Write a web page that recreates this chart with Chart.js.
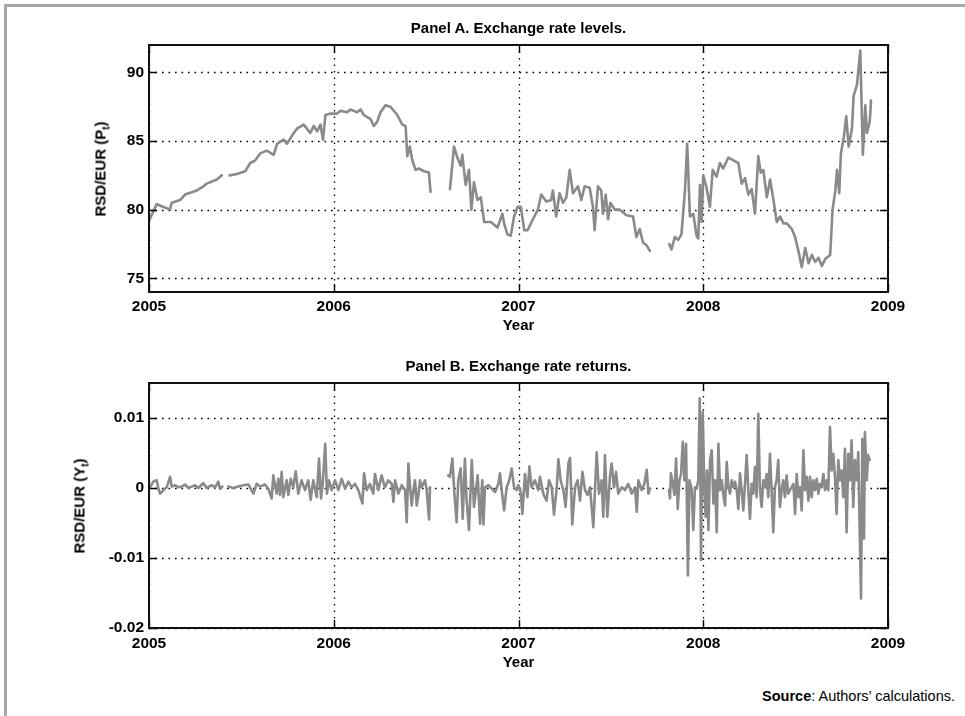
<!DOCTYPE html>
<html>
<head>
<meta charset="utf-8">
<script src="https://cdn.jsdelivr.net/npm/chart.js@4.4.1/dist/chart.umd.min.js"></script>
<style>
  html,body{margin:0;padding:0;background:#fff;}
  body{width:965px;height:716px;overflow:hidden;position:relative;font-family:"Liberation Sans",Arial,Helvetica,sans-serif;color:#000;}
  #frame{position:absolute;left:4px;top:4px;width:961px;height:712px;box-sizing:border-box;border-top:3px solid #a6a6a6;border-left:3px solid #a6a6a6;}
  canvas{position:absolute;left:0;}
  .lbl{position:absolute;font-weight:bold;font-size:15px;line-height:15px;white-space:nowrap;}
  .ctr{transform:translateX(-50%);}
  .rot{transform:translate(-50%,-50%) rotate(-90deg);}
  .sub{font-size:10px;line-height:0;position:relative;top:4px;}
  #src{position:absolute;right:10px;top:689px;font-size:14.5px;line-height:14.5px;white-space:nowrap;}
</style>
</head>
<body>
<div id="frame"></div>
<canvas id="cA" width="965" height="340" style="top:0px"></canvas>
<canvas id="cB" width="965" height="345" style="top:340px"></canvas>

<div class="lbl ctr" style="left:518.5px;top:20px">Panel A. Exchange rate levels.</div>
<div class="lbl ctr" style="left:518.5px;top:317px">Year</div>
<div class="lbl rot" style="left:100px;top:168.5px">RSD/EUR (P<span class="sub">t</span>)</div>

<div class="lbl ctr" style="left:518.5px;top:358px">Panel B. Exchange rate returns.</div>
<div class="lbl ctr" style="left:518.5px;top:654px">Year</div>
<div class="lbl rot" style="left:79px;top:505.5px">RSD/EUR (Y<span class="sub">t</span>)</div>

<div id="src"><b>Source</b>: Authors’ calculations.</div>

<script>
// ---------- DATA ----------
const xTicks = [2005, 2006, 2007, 2008, 2009];
const yTicksA = [75, 80, 85, 90];
const yTicksB = [-0.02, -0.01, 0, 0.01];

// Panel A: exchange rate levels (RSD/EUR), null = gap in data
const yearsA = [
2005.000,2005.042,2005.096,2005.114,2005.123,2005.168,2005.195,2005.259,2005.295,2005.313,2005.367,2005.394,
2005.415,
2005.436,2005.476,2005.521,2005.548,2005.575,2005.602,2005.638,2005.675,2005.693,2005.729,
2005.747,2005.774,2005.801,2005.837,2005.873,2005.892,2005.910,2005.928,2005.942,2005.955,
2005.982,2006.018,2006.036,2006.072,2006.090,2006.127,2006.145,2006.163,2006.199,2006.217,
2006.235,2006.253,2006.280,2006.307,2006.344,2006.371,2006.389,2006.398,2006.412,2006.425,
2006.443,2006.461,2006.488,2006.515,2006.524,
2006.575,
2006.629,2006.651,2006.669,2006.687,2006.696,2006.714,2006.732,2006.745,2006.759,2006.778,
2006.796,2006.814,2006.850,2006.886,2006.913,2006.922,2006.940,2006.958,2006.976,2006.995,
2007.013,2007.031,2007.049,2007.078,2007.105,2007.123,2007.150,2007.177,2007.186,2007.204,
2007.222,2007.241,2007.259,2007.277,2007.295,2007.322,2007.340,2007.358,2007.385,2007.403,
2007.412,2007.430,2007.448,2007.457,2007.472,2007.485,2007.497,2007.521,2007.548,2007.584,
2007.620,2007.638,2007.656,2007.674,2007.693,2007.711,
2007.760,
2007.816,2007.828,2007.846,2007.864,2007.882,2007.901,2007.913,2007.928,2007.946,2007.964,
2007.973,2007.982,2007.991,2008.000,2008.018,2008.036,2008.051,2008.072,2008.090,2008.108,
2008.136,2008.163,2008.190,2008.208,2008.226,2008.244,2008.262,2008.280,2008.298,2008.311,
2008.325,2008.344,2008.362,2008.380,2008.398,2008.416,2008.434,2008.452,2008.479,2008.497,
2008.515,2008.533,2008.552,2008.570,2008.588,2008.606,2008.624,2008.642,2008.660,2008.687,
2008.700,2008.715,2008.724,2008.736,2008.745,2008.760,2008.774,2008.787,2008.805,2008.814,
2008.832,2008.850,2008.859,2008.864,2008.877,2008.886,2008.901,2008.908
];
const levelsA = [
79.2,80.4,80.1,80.0,80.5,80.7,81.1,81.4,81.7,81.9,82.2,82.5,
null,
82.5,82.6,82.8,83.4,83.6,84.1,84.3,84.0,84.8,85.1,
84.8,85.4,85.9,86.2,85.6,86.1,85.7,86.2,85.1,86.9,
87.0,87.0,87.2,87.1,87.3,87.1,87.3,86.9,86.6,86.1,
86.4,87.1,87.6,87.5,86.9,86.2,86.1,83.9,84.6,83.6,
82.9,83.0,82.8,82.7,81.3,
null,
81.5,84.6,83.8,83.2,84.0,81.8,82.9,80.0,82.0,80.7,
80.9,79.1,79.1,78.7,79.7,79.0,78.2,78.1,79.5,80.2,
80.2,78.5,78.5,79.3,80.0,81.1,80.6,80.7,81.4,79.5,
81.2,80.5,80.9,82.9,81.2,81.7,80.7,81.7,81.6,80.2,
78.5,81.7,81.4,79.7,81.1,79.3,80.5,80.0,80.0,79.6,
79.5,78.0,78.6,77.6,77.4,77.0,
null,
77.5,77.1,78.0,77.8,78.2,81.4,84.8,79.5,79.7,78.1,
77.9,81.8,79.1,82.5,81.6,80.2,82.9,82.4,83.4,83.0,
83.8,83.6,83.4,81.9,82.3,81.1,81.5,79.7,83.9,82.7,
82.9,80.9,82.2,80.7,79.1,79.5,79.0,79.0,78.6,78.0,
77.0,75.8,77.2,76.1,76.7,76.2,76.5,75.9,76.4,76.7,
80.0,81.4,82.9,81.2,84.1,85.2,86.8,84.6,85.9,88.3,
89.1,91.6,86.6,84.0,87.6,85.6,86.4,87.95
];

// Panel B: exchange rate returns, null = gap in data
const yearsB = [
2005.005,2005.023,2005.042,2005.051,2005.060,2005.078,2005.096,2005.114,2005.123,2005.141,
2005.159,2005.177,2005.195,2005.213,2005.231,2005.249,2005.267,2005.294,2005.312,2005.339,
2005.357,2005.375,2005.384,2005.397,
2005.413,
2005.429,2005.456,2005.484,2005.511,2005.538,2005.565,2005.583,2005.601,2005.628,2005.646,
2005.664,2005.673,2005.691,2005.700,2005.709,2005.718,2005.727,2005.745,2005.754,2005.767,
2005.781,2005.794,2005.808,2005.826,2005.844,2005.862,2005.875,2005.889,2005.908,2005.920,
2005.931,2005.940,2005.954,2005.963,2005.974,2005.989,2006.007,2006.025,2006.043,2006.061,
2006.079,2006.097,2006.115,2006.133,2006.155,2006.164,2006.178,2006.196,2006.214,2006.223,
2006.241,2006.259,2006.277,2006.295,2006.314,2006.323,2006.332,2006.350,2006.368,2006.386,
2006.395,2006.404,2006.413,2006.422,2006.431,2006.440,2006.449,2006.458,2006.467,2006.476,
2006.494,2006.503,2006.516,2006.521,
2006.570,
2006.620,2006.629,2006.642,2006.653,2006.665,2006.674,2006.687,2006.698,2006.710,2006.719,
2006.732,2006.747,2006.759,2006.770,2006.779,2006.792,2006.804,2006.810,2006.819,2006.837,
2006.855,2006.873,2006.891,2006.900,2006.909,2006.922,2006.936,2006.950,2006.963,2006.976,
2006.990,2006.999,2007.012,2007.021,2007.035,2007.048,2007.059,2007.071,2007.089,2007.107,
2007.116,2007.134,2007.152,2007.165,2007.180,2007.192,2007.207,2007.216,2007.228,2007.243,
2007.255,2007.270,2007.279,2007.291,2007.306,2007.320,2007.333,2007.346,2007.360,2007.374,
2007.387,2007.405,2007.423,2007.436,2007.450,2007.459,2007.468,2007.481,2007.495,2007.504,
2007.517,2007.528,2007.540,2007.558,2007.576,2007.594,2007.613,2007.631,2007.640,2007.649,
2007.667,2007.681,2007.694,2007.703,2007.712,
2007.760,
2007.815,2007.820,2007.825,2007.838,2007.844,2007.853,2007.862,2007.871,2007.880,2007.889,
2007.898,2007.907,2007.917,2007.925,2007.937,2007.946,2007.955,2007.964,2007.973,2007.981,
2007.988,2007.997,2008.006,2008.013,2008.020,2008.028,2008.037,2008.046,2008.055,2008.064,
2008.073,2008.082,2008.091,2008.100,2008.109,2008.118,2008.127,2008.136,2008.145,2008.154,
2008.163,2008.172,2008.181,2008.190,2008.199,2008.208,2008.217,2008.226,2008.235,2008.244,
2008.253,2008.262,2008.271,2008.280,2008.289,2008.298,2008.307,2008.316,2008.325,2008.334,
2008.343,2008.352,2008.361,2008.370,2008.379,2008.388,2008.397,2008.406,2008.415,2008.424,
2008.433,2008.442,2008.451,2008.460,2008.469,2008.479,2008.488,2008.497,2008.506,2008.515,
2008.524,2008.533,2008.542,2008.551,2008.560,2008.569,2008.578,2008.587,2008.596,2008.605,
2008.614,2008.623,2008.632,2008.641,2008.650,2008.659,2008.668,2008.677,2008.686,2008.695,
2008.704,2008.713,2008.722,2008.731,2008.740,2008.749,2008.758,2008.767,2008.776,2008.785,
2008.794,2008.803,2008.812,2008.821,2008.830,2008.839,2008.848,2008.854,2008.861,2008.870,
2008.875,2008.885,2008.892,2008.901
];
const returnsB = [
0.0001,0.0009,0.0011,-0.0001,-0.0008,-0.0003,0.0001,0.0016,0.0002,0.0004,
0.0001,0.0002,0.0005,0.0000,0.0002,0.0004,0.0000,0.0007,0.0000,0.0004,
0.0001,0.0009,-0.0001,0.0002,
null,
0.0002,0.0000,0.0002,0.0004,0.0005,-0.0008,0.0006,0.0002,0.0005,-0.0001,
-0.0015,0.0018,-0.0008,0.0013,-0.0010,0.0023,-0.0013,0.0011,-0.0010,0.0013,
0.0001,0.0024,-0.0008,0.0011,-0.0003,0.0011,-0.0017,0.0011,-0.0013,0.0042,
-0.0015,0.0006,0.0063,-0.0008,0.0011,-0.0003,0.0011,-0.0003,0.0013,-0.0001,
0.0009,0.0001,0.0006,-0.0003,-0.0022,0.0021,-0.0003,0.0006,-0.0008,0.0020,
-0.0003,0.0018,0.0001,0.0011,0.0006,-0.0020,0.0011,-0.0008,0.0004,-0.0003,
-0.0049,0.0035,0.0001,-0.0025,-0.0003,0.0011,-0.0025,-0.0010,0.0011,0.0001,
0.0011,-0.0003,-0.0045,0.0001,
null,
0.0018,0.0016,0.0042,-0.0008,-0.0049,0.0011,0.0028,-0.0044,0.0042,-0.0017,
-0.0060,0.0040,-0.0027,-0.0003,0.0018,-0.0051,0.0011,-0.0052,0.0001,0.0004,
-0.0001,-0.0006,0.0006,0.0021,-0.0003,-0.0032,0.0001,0.0011,0.0028,0.0001,
-0.0003,0.0004,-0.0006,-0.0037,0.0020,-0.0013,0.0031,0.0001,0.0011,-0.0003,
0.0016,-0.0008,-0.0018,0.0011,0.0001,-0.0038,0.0001,0.0041,0.0011,-0.0003,
-0.0027,0.0035,0.0043,-0.0052,0.0001,0.0011,-0.0018,0.0023,-0.0003,-0.0010,
0.0001,-0.0056,0.0051,-0.0008,0.0011,-0.0041,0.0047,-0.0041,0.0016,0.0035,
0.0001,0.0023,-0.0008,0.0001,-0.0003,0.0006,-0.0008,0.0001,-0.0034,0.0011,
-0.0003,0.0006,0.0026,-0.0008,-0.0001,
null,
-0.0003,-0.0015,0.0021,0.0001,-0.0010,0.0042,-0.0030,0.0011,0.0020,0.0066,
0.0011,0.0063,-0.0125,0.0011,-0.0001,-0.0060,0.0001,-0.0001,0.0011,0.0128,
-0.0103,0.0109,-0.0003,-0.0041,0.0025,-0.0060,0.0040,0.0054,-0.0022,0.0011,
-0.0063,0.0063,-0.0003,0.0011,-0.0010,-0.0025,0.0037,0.0001,-0.0008,0.0011,
0.0001,0.0009,-0.0003,-0.0030,0.0021,-0.0003,-0.0032,0.0006,0.0047,-0.0003,
-0.0044,0.0006,-0.0008,0.0030,-0.0013,0.0106,-0.0003,-0.0027,0.0011,0.0001,
0.0020,-0.0013,0.0049,-0.0003,-0.0063,0.0001,0.0011,0.0040,-0.0027,-0.0003,
0.0011,-0.0013,0.0018,-0.0008,-0.0003,0.0001,0.0006,-0.0037,0.0020,-0.0013,
0.0001,-0.0032,0.0054,-0.0003,0.0016,-0.0018,0.0016,-0.0013,0.0011,-0.0003,
0.0013,-0.0008,0.0006,0.0001,0.0020,-0.0003,0.0011,-0.0003,0.0087,0.0025,
0.0049,0.0016,-0.0037,0.0040,0.0011,0.0025,-0.0013,0.0056,-0.0063,0.0049,
0.0011,0.0068,-0.0027,0.0040,0.0011,0.0051,-0.0075,-0.0158,0.0070,-0.0072,
0.0080,0.0011,0.0047,0.0040
];

if (yearsA.length !== levelsA.length) console.error('A length mismatch', yearsA.length, levelsA.length);
if (yearsB.length !== returnsB.length) console.error('B length mismatch', yearsB.length, returnsB.length);

// ---------- RENDER ----------
const FONT = '"Liberation Sans", Arial, Helvetica, sans-serif';
const LINE_COLOR = '#8a8a8a';

const framePlugin = {
  id: 'matlabFrame',
  beforeDatasetsDraw(chart) {
    const {ctx, chartArea: a, scales: {x, y}} = chart;
    ctx.save();
    ctx.strokeStyle = '#000';
    ctx.lineWidth = 1.3;
    ctx.setLineDash([1.6, 4.9]);
    x.ticks.forEach(t => {
      const px = Math.round(x.getPixelForValue(t.value)) + 0.5;
      ctx.beginPath(); ctx.moveTo(px, a.top); ctx.lineTo(px, a.bottom); ctx.stroke();
    });
    y.ticks.forEach(t => {
      const py = Math.round(y.getPixelForValue(t.value)) + 0.5;
      ctx.beginPath(); ctx.moveTo(a.left, py); ctx.lineTo(a.right, py); ctx.stroke();
    });
    ctx.restore();
  },
  afterDatasetsDraw(chart) {
    const {ctx, chartArea: a, scales: {x, y}} = chart;
    const L = 8;
    ctx.save();
    ctx.strokeStyle = '#000';
    ctx.lineWidth = 1.4;
    ctx.setLineDash([]);
    x.ticks.forEach(t => {
      const px = Math.round(x.getPixelForValue(t.value)) + 0.5;
      ctx.beginPath();
      ctx.moveTo(px, a.bottom); ctx.lineTo(px, a.bottom - L);
      ctx.moveTo(px, a.top); ctx.lineTo(px, a.top + L);
      ctx.stroke();
    });
    y.ticks.forEach(t => {
      const py = Math.round(y.getPixelForValue(t.value)) + 0.5;
      ctx.beginPath();
      ctx.moveTo(a.left, py); ctx.lineTo(a.left + L, py);
      ctx.moveTo(a.right, py); ctx.lineTo(a.right - L, py);
      ctx.stroke();
    });
    ctx.lineWidth = 2;
    ctx.strokeStyle = '#111';
    ctx.strokeRect(a.left, a.top, a.right - a.left, a.bottom - a.top);
    ctx.restore();
  }
};

function makeChart(id, xs, ys, yMin, yMax, yTicks, yFmt, padTop, xHeight, xPad) {
  const pts = xs.map((v, i) => ({x: v, y: ys[i]}));
  return new Chart(document.getElementById(id), {
    type: 'line',
    data: {datasets: [{
      data: pts,
      borderColor: LINE_COLOR,
      borderWidth: 2.6,
      pointRadius: 0,
      tension: 0,
      spanGaps: false,
      borderJoinStyle: 'round',
      borderCapStyle: 'round',
      fill: false
    }]},
    options: {
      responsive: false,
      animation: false,
      events: [],
      layout: {padding: {left: 0, right: 77, top: padTop, bottom: 0}},
      plugins: {legend: {display: false}, tooltip: {enabled: false}, title: {display: false}},
      scales: {
        x: {
          type: 'linear', min: 2005, max: 2009,
          afterBuildTicks: s => { s.ticks = xTicks.map(v => ({value: v})); },
          afterFit: s => { s.height = xHeight; },
          grid: {display: false, drawTicks: false},
          border: {display: false},
          ticks: {
            autoSkip: false, maxRotation: 0, padding: xPad,
            color: '#000',
            font: {family: FONT, size: 15.5, weight: 'bold', lineHeight: 1.2},
            callback: v => String(v)
          }
        },
        y: {
          type: 'linear', min: yMin, max: yMax,
          afterBuildTicks: s => { s.ticks = yTicks.map(v => ({value: v})); },
          afterFit: s => { s.width = 149; },
          grid: {display: false, drawTicks: false},
          border: {display: false},
          ticks: {
            autoSkip: false, padding: 5,
            color: '#000',
            font: {family: FONT, size: 15.5, weight: 'bold', lineHeight: 1.2},
            callback: yFmt
          }
        }
      }
    },
    plugins: [framePlugin]
  });
}

makeChart('cA', yearsA, levelsA, 74, 92, yTicksA, v => String(v), 45, 48, 5);
makeChart('cB', yearsB, returnsB, -0.02, 0.015, yTicksB, v => (v === 0 ? '0' : v.toFixed(2)), 43, 57, 6);
</script>
</body>
</html>
